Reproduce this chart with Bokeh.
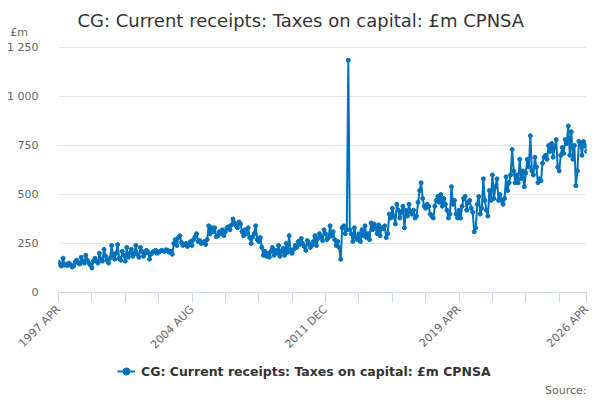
import numpy as np
from bokeh.plotting import figure
from bokeh.models import (ColumnDataSource, FixedTicker, Range1d, Legend,
                          LegendItem, Label)
from bokeh.layouts import column
from bokeh.embed import file_html
from bokeh.resources import INLINE

FONT = "DejaVu Sans"
BLUE = "#0072bc"

# monthly values, Apr..Mar per row, 1997/98 to 2025/26, then 2026 APR
receipts = [
    155, 140, 135, 175, 140, 145, 138, 150, 142, 130, 135, 155,
    165, 150, 145, 180, 160, 150, 190, 165, 150, 140, 125, 160,
    175, 160, 150, 200, 170, 160, 220, 185, 165, 150, 175, 240,
    190, 170, 200, 245, 175, 165, 210, 190, 160, 230, 180, 200,
    220, 185, 200, 240, 195, 180, 230, 210, 185, 200, 215, 205,
    170, 195, 205, 210, 215, 200, 205, 210, 215, 212, 210, 218,
    215, 205, 210, 195, 250, 270, 240, 280, 290, 255, 240, 245,
    250, 235, 245, 260, 240, 270, 285, 300, 260, 265, 250, 255,
    260, 245, 270, 340, 300, 330, 310, 330, 285, 290, 310, 300,
    320, 290, 310, 330, 335, 320, 345, 375, 355, 340, 330, 360,
    350, 310, 290, 320, 300, 330, 280, 250, 285, 300, 340, 270,
    260, 280, 230, 190, 210, 185, 200, 180, 210, 230, 190, 215,
    200, 240, 185, 210, 225, 190, 250, 205, 290, 215, 200, 220,
    240, 230, 260, 245, 275, 250, 235, 215, 265, 250, 230, 240,
    260, 290, 240, 275, 300, 285, 265, 320, 300, 270, 280, 340,
    290, 310, 270, 240, 260, 230, 170, 330, 340, 300, 320, 1185,
    320, 300, 260, 330, 280, 270, 300, 260, 320, 290, 340, 280,
    300, 270, 355, 320, 350, 330, 300, 345, 290, 330, 325, 340,
    280, 300, 400, 380, 430, 390, 350, 450, 420, 380, 410, 440,
    330, 420, 390, 450, 410, 400, 420, 380, 390, 460, 520, 560,
    480, 440, 430, 450, 440, 400, 390, 380, 440, 470, 490, 460,
    500, 440, 480, 450, 420, 380, 400, 540, 450, 470, 400, 380,
    420, 380, 440, 480, 490, 420, 460, 470, 430, 410, 310, 330,
    450, 490, 400, 430, 580, 470, 420, 390, 520, 470, 600, 480,
    540, 580, 470, 500, 470, 450, 480, 590, 520, 560, 600, 730,
    620, 560, 600, 560, 680, 580, 620, 540, 610, 680, 640, 800,
    620, 600, 690, 640, 560, 580, 570, 660, 690, 700, 680, 750,
    720, 760, 690, 740, 780, 640, 620, 700, 740, 710, 780, 760,
    850, 700, 820, 680, 750, 545, 620, 770, 760, 700, 770, 750,
    720,
]

month_names = ["JAN", "FEB", "MAR", "APR", "MAY", "JUN",
               "JUL", "AUG", "SEP", "OCT", "NOV", "DEC"]
start_year, start_month = 1997, 4
labelled = [0, 88, 176, 264, 348]
y_ticks = [0, 250, 500, 750, 1000, 1250]
series_name = "CG: Current receipts: Taxes on capital: £m CPNSA"
unit = "£m"


def month_label(i):
    m = start_month - 1 + i
    return "%d %s" % (start_year + m // 12, month_names[m % 12])


# frame runs to the top of the figure; 1 250 sits 47px below it
fig_h, bottom_border = 359, 67
frame_h = fig_h - bottom_border
y_top = y_ticks[-1] * frame_h / (frame_h - 47)
unit_pos = y_ticks[-1] * (frame_h - 32) / (frame_h - 47)

idx = np.arange(len(receipts))
source = ColumnDataSource(data=dict(x=idx, y=receipts))

p = figure(width=600, height=fig_h, output_backend="svg",
           toolbar_location=None, title=None,
           x_range=Range1d(0, len(receipts) - 1), y_range=Range1d(0, y_top),
           min_border_left=58, min_border_right=14, min_border_top=0,
           min_border_bottom=bottom_border)
p.outline_line_color = None

p.add_layout(Label(x=19, y=frame_h - 20, x_units="screen", y_units="screen",
                   text=series_name, text_font=FONT, text_font_size="18px",
                   text_color="#333333", text_baseline="middle"))

ln = p.line("x", "y", source=source, line_color=BLUE, line_width=2)
p.scatter("x", "y", source=source, size=4, fill_color=BLUE, line_color=BLUE)

# x axis
x_ticks = list(range(0, len(receipts), 22)) + [len(receipts) - 1]
p.xaxis.ticker = FixedTicker(ticks=x_ticks)
p.xaxis.major_label_overrides = {t: (month_label(t) if t in labelled else "")
                                 for t in x_ticks}
p.xaxis.major_label_orientation = np.pi / 4
p.xaxis.axis_line_color = "#ccd6eb"
p.xaxis.major_tick_line_color = "#ccd6eb"
p.xaxis.major_tick_out = 10
p.xaxis.major_tick_in = 0
p.xaxis.minor_tick_line_color = None
p.xaxis.major_label_text_font = FONT
p.xaxis.major_label_text_font_size = "11px"
p.xaxis.major_label_text_color = "#666666"
p.xgrid.grid_line_color = None

# y axis, with the unit as an extra label above the top tick
p.yaxis.ticker = FixedTicker(ticks=y_ticks + [unit_pos])
overrides = {t: ("{:,}".format(t).replace(",", " ")) for t in y_ticks}
overrides[unit_pos] = unit + "\u00a0" * 3
p.yaxis.major_label_overrides = overrides
p.yaxis.axis_line_color = None
p.yaxis.major_tick_line_color = None
p.yaxis.minor_tick_line_color = None
p.yaxis.major_label_standoff = 14
p.yaxis.major_label_text_font = FONT
p.yaxis.major_label_text_font_size = "11px"
p.yaxis.major_label_text_color = "#666666"
p.ygrid.ticker = FixedTicker(ticks=y_ticks)
p.ygrid.grid_line_color = "#e6e6e6"

# legend strip under the chart (frame aligned with the chart above)
lg = figure(width=600, height=41, output_backend="svg", toolbar_location=None,
            x_range=Range1d(0, 1), y_range=Range1d(0, 1),
            min_border_left=58, min_border_right=14, min_border_top=0,
            min_border_bottom=0)
lg.axis.visible = False
lg.grid.grid_line_color = None
lg.outline_line_color = None
key_line = lg.line([-5, -4], [-5, -5], line_color=BLUE, line_width=2)
key_dot = lg.scatter([-5], [-5], size=4, fill_color=BLUE, line_color=BLUE)
legend = Legend(items=[LegendItem(label=series_name,
                                  renderers=[key_line, key_dot])],
                orientation="horizontal", location=(59, 19),
                label_text_font=FONT, label_text_font_size="12.5px",
                label_text_font_style="bold", label_text_color="#333333",
                border_line_color=None, background_fill_alpha=0,
                glyph_width=18, label_standoff=6, padding=0, margin=0)
lg.add_layout(legend)
lg.add_layout(Label(x=528, y=4, x_units="screen", y_units="screen",
                    text="Source:", text_font=FONT, text_font_size="11px",
                    text_color="#666666", text_align="right",
                    text_baseline="bottom"))

page = column(p, lg, spacing=0)
open("out.html", "w").write(file_html(page, INLINE))
